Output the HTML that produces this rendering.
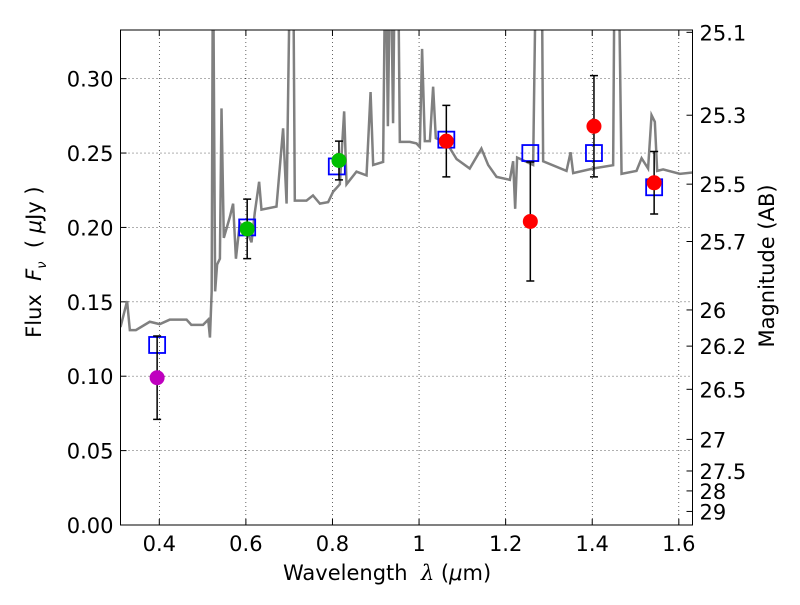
<!DOCTYPE html>
<html><head><meta charset="utf-8"><style>
body{margin:0;background:#fff;font-family:"Liberation Sans","DejaVu Sans",sans-serif}
svg text{font-family:"DejaVu Sans","Liberation Sans",sans-serif}
</style></head><body>
<svg id="chart" width="800" height="600" viewBox="0 0 800 600"></svg>
<script>
const xTicks=[0.4,0.6,0.8,1.0,1.2,1.4,1.6];
const xTickLabels=["0.4","0.6","0.8","1","1.2","1.4","1.6"];
const yTicks=[0,0.05,0.10,0.15,0.20,0.25,0.30];
const yTickLabels=["0.00","0.05","0.10","0.15","0.20","0.25","0.30"];
const magTicks=[25.1,25.3,25.5,25.7,26,26.2,26.5,27,27.5,28,29];
const specWave=[0.3104,0.3256,0.332,0.346,0.378,0.401,0.424,0.463,0.474,0.501,0.513,0.517,0.521,0.524,0.529,0.5335,0.540,0.5437,0.549,0.563,0.5705,0.577,0.586,0.603,0.613,0.6206,0.6306,0.636,0.6707,0.686,0.694,0.703,0.709,0.713,0.740,0.755,0.771,0.790,0.8015,0.817,0.827,0.8325,0.8555,0.8787,0.888,0.894,0.917,0.9225,0.928,0.934,0.940,0.9447,0.951,0.9556,0.9787,0.994,1.0018,1.007,1.0133,1.025,1.0325,1.0387,1.0634,1.0866,1.117,1.144,1.1596,1.179,1.2097,1.2173,1.222,1.2265,1.2635,1.271,1.283,1.2866,1.3406,1.35,1.356,1.402,1.4483,1.452,1.46,1.4677,1.5023,1.514,1.529,1.537,1.5446,1.55,1.5638,1.6024,1.6335];
const specFlux=[0.133,0.1505,0.131,0.131,0.1366,0.135,0.138,0.138,0.1345,0.1345,0.138,0.126,0.157,0.4,0.157,0.175,0.179,0.280,0.193,0.207,0.216,0.179,0.203,0.197,0.19,0.21,0.2307,0.212,0.214,0.2666,0.216,0.4,0.4,0.218,0.218,0.2215,0.216,0.217,0.224,0.229,0.278,0.229,0.2375,0.235,0.291,0.242,0.244,0.4,0.268,0.4,0.270,0.4,0.4,0.2575,0.2575,0.2565,0.254,0.320,0.258,0.258,0.2946,0.260,0.257,0.246,0.2396,0.253,0.242,0.234,0.232,0.2445,0.2125,0.247,0.242,0.4,0.4,0.2445,0.238,0.2505,0.2365,0.2396,0.2418,0.4,0.4,0.236,0.238,0.2465,0.2396,0.2755,0.271,0.238,0.239,0.236,0.237];
const obsWave=[0.395,0.603,0.815,1.063,1.257,1.404,1.543];
const obsFlux=[0.099,0.199,0.245,0.258,0.204,0.268,0.230];
const obsErr=[0.028,0.020,0.013,0.024,0.040,0.034,0.021];
const obsColor=["#bf00bf","#00bf00","#00bf00","#ff0000","#ff0000","#ff0000","#ff0000"];
const modelWave=[0.395,0.603,0.81,1.063,1.257,1.404,1.543];
const modelFlux=[0.121,0.200,0.241,0.259,0.250,0.250,0.227];

const L=120.5,R=692.5,T=30,B=525,xmin=0.3104,xmax=1.6316,ymin=0,ymax=0.3327;
const X=v=>L+(v-xmin)/(xmax-xmin)*(R-L);
const Y=v=>B-(v-ymin)/(ymax-ymin)*(B-T);
const svg=document.getElementById('chart');
const NS='http://www.w3.org/2000/svg';
function mk(tag,at,parent){const e=document.createElementNS(NS,tag);for(const k in at)e.setAttribute(k,at[k]);(parent||svg).appendChild(e);return e;}
const clip=mk('clipPath',{id:'pc'});mk('rect',{x:L,y:T,width:R-L,height:B-T},clip);
xTicks.forEach((t,i)=>{const g=mk('line',{x1:X(t),x2:X(t),y1:T,y2:B,stroke:'#000','stroke-width':0.6,'stroke-dasharray':'1,3'});

mk('line',{x1:X(t),x2:X(t),y1:B,y2:B-6,stroke:'#000'});mk('line',{x1:X(t),x2:X(t),y1:T,y2:T+6,stroke:'#000'});
const tx=mk('text',{x:X(t),y:B+26,'font-size':21,'text-anchor':'middle'});tx.textContent=xTickLabels[i];
});
yTicks.forEach((t,i)=>{const g=mk('line',{x1:L,x2:R,y1:Y(t),y2:Y(t),stroke:'#000','stroke-width':0.6,'stroke-dasharray':'1,3'});

mk('line',{x1:L,x2:L+6,y1:Y(t),y2:Y(t),stroke:'#000'});
const tx=mk('text',{x:L-7,y:Y(t)+8,'font-size':21,'text-anchor':'end'});tx.textContent=yTickLabels[i];
});
magTicks.forEach(m=>{const f=Math.pow(10,(23.9-m)/2.5);const y=Y(f);
mk('line',{x1:R,x2:R-6,y1:y,y2:y,stroke:'#000'});
const tx=mk('text',{x:R+7,y:y+8,'font-size':21});tx.textContent=String(m);
});
const sp=mk('polyline',{points:specWave.map((w,i)=>X(w)+','+Y(specFlux[i])).join(' '),fill:'none',stroke:'#808080','stroke-width':2.5,'clip-path':'url(#pc)'});

modelWave.forEach((w,i)=>{const r=mk('rect',{x:X(w)-8,y:Y(modelFlux[i])-8,width:16,height:16,fill:'none',stroke:'#0000ff','stroke-width':1.8});
});
obsWave.forEach((w,i)=>{const x=X(w),y1=Y(obsFlux[i]-obsErr[i]),y2=Y(obsFlux[i]+obsErr[i]);
const e=mk('path',{d:`M${x},${y1}V${y2}M${x-4},${y1}H${x+4}M${x-4},${y2}H${x+4}`,stroke:'#000','stroke-width':1.5,fill:'none'});

const c=mk('circle',{cx:x,cy:Y(obsFlux[i]),r:7.5,fill:obsColor[i]});
});
const fr=mk('rect',{x:L,y:T,width:R-L,height:B-T,fill:'none',stroke:'#000','stroke-width':1});

</script>
<div style="position:absolute;left:0;top:0;width:800px;height:600px;pointer-events:none">
<div style="position:absolute;left:283px;top:561px;font-size:21px;font-family:'DejaVu Sans',sans-serif">Wavelength &nbsp;<i style="font-family:'DejaVu Serif',serif">λ</i> (<i>μ</i>m)</div>
<div style="position:absolute;left:-64px;top:248px;width:200px;text-align:center;transform:rotate(-90deg);font-size:21px;font-family:'DejaVu Sans',sans-serif">Flux &nbsp;<i>F<sub style="font-size:13px">ν</sub></i> &nbsp;( <i>μ</i>Jy )</div>
<div style="position:absolute;left:667px;top:254px;width:200px;text-align:center;transform:rotate(-90deg);font-size:21px;font-family:'DejaVu Sans',sans-serif">Magnitude (AB)</div>
</div>
</body></html>
